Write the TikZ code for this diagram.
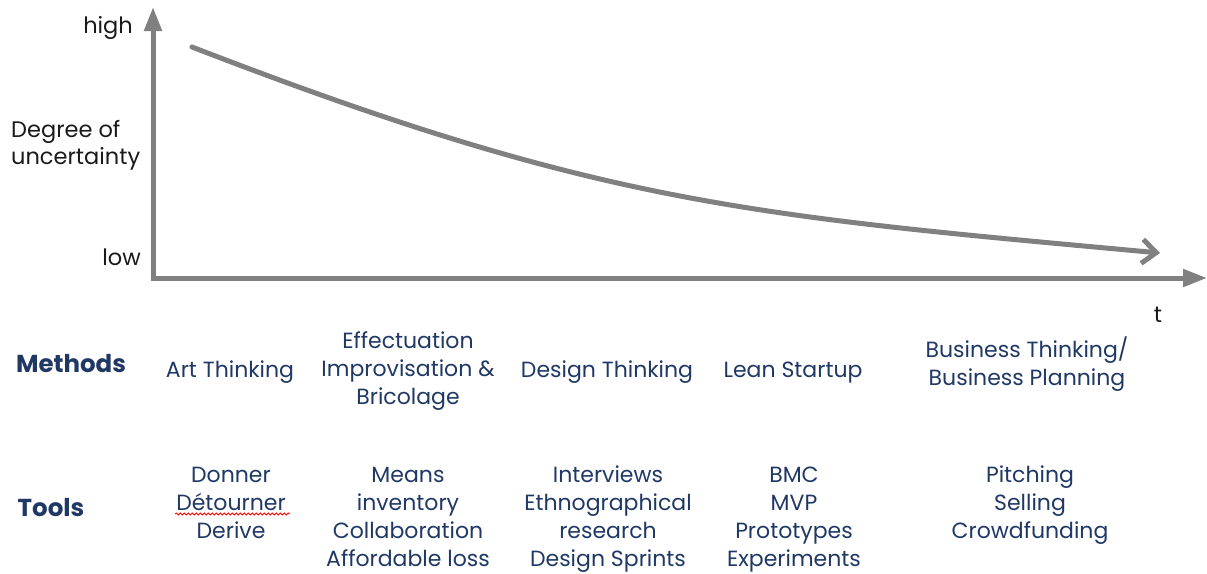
\documentclass[tikz,border=0pt]{standalone}
\usepackage{fontspec}
\setmainfont{Poppins}
\usetikzlibrary{arrows.meta,decorations.pathmorphing}
\definecolor{axisgray}{HTML}{808080}
\definecolor{navy}{HTML}{1F3864}
\definecolor{labelblack}{HTML}{1A1A1A}
\tikzset{
  axis/.style={draw=axisgray,line width=5pt,-{Triangle[length=24pt,width=17pt]}},
  trend/.style={draw=axisgray,line width=5pt,line cap=round,-{Straight Barb[length=14pt,width=24pt,line width=5pt]}},
  axlabel/.style={text=labelblack,font=\fontsize{22.5}{27}\selectfont,inner sep=0pt},
  colhead/.style={text=navy,font=\fontsize{24.5}{28}\selectfont\bfseries,inner sep=0pt},
  coltext/.style={text=navy,font=\fontsize{22}{28}\selectfont,align=center,inner sep=0pt,
    execute at begin node=\strut, execute at end node=\strut},
  squiggle/.style={draw=red,line width=0.8pt,decorate,decoration={snake,amplitude=1pt,segment length=4pt}}
}
\begin{document}
\begin{tikzpicture}[x=1pt,y=-1pt]
\useasboundingbox (0,0) rectangle (1207,573);
% axes
\coordinate (origin) at (153,278);
\coordinate (ytip) at (153,7);
\coordinate (xtip) at (1207,278);
\draw[axis] (origin) -- (ytip);
\draw[axis] ([xshift=-2.5pt]origin) -- (xtip);
% trend curve
\coordinate (cstart) at (192,47);
\coordinate (cend) at (1160,253);
\draw[trend] (cstart) .. controls (601,205) and (751,215.4) .. (cend);
% axis labels
\node[axlabel,anchor=east] (high) at (133,28) {high};
\node[axlabel,anchor=west] (deg1) at (11,132) {Degree of};
\node[axlabel,anchor=west] (deg2) at (11,159) {uncertainty};
\node[axlabel,anchor=east] (low) at (141,257) {low};
\node[axlabel] (t) at (1158,315) {t};
% row headers
\node[colhead] (methods) at (71,364) {Methods};
\node[colhead] (tools) at (51,508) {Tools};
% methods
\node[coltext] (m1) at (230,371.4) {Art Thinking};
\node[coltext] (m2) at (408,372.4) {Effectuation\\Improvisation \&\\Bricolage};
\node[coltext] (m3) at (607,371.4) {Design Thinking};
\node[coltext] (m4) at (793,371.4) {Lean Startup};
\node[coltext] (m5) at (1027,365.4) {Business Thinking/\\Business Planning};
% tools
\node[coltext] (t1) at (231,507.4) {Donner\\Détourner\\Derive};
\node[coltext] (t2) at (408,521.4) {Means\\inventory\\Collaboration\\Affordable loss};
\node[coltext] (t3) at (608,520.4) {Interviews\\Ethnographical\\research\\Design Sprints};
\node[coltext] (t4) at (794,521.4) {BMC\\MVP\\Prototypes\\Experiments};
\node[coltext] (t5) at (1030,506.4) {Pitching\\Selling\\Crowdfunding};
% spell-check squiggle
\coordinate (sq1) at (175,514);
\coordinate (sq2) at (290,514);
\draw[squiggle] (sq1) -- (sq2);
\end{tikzpicture}
\end{document}
